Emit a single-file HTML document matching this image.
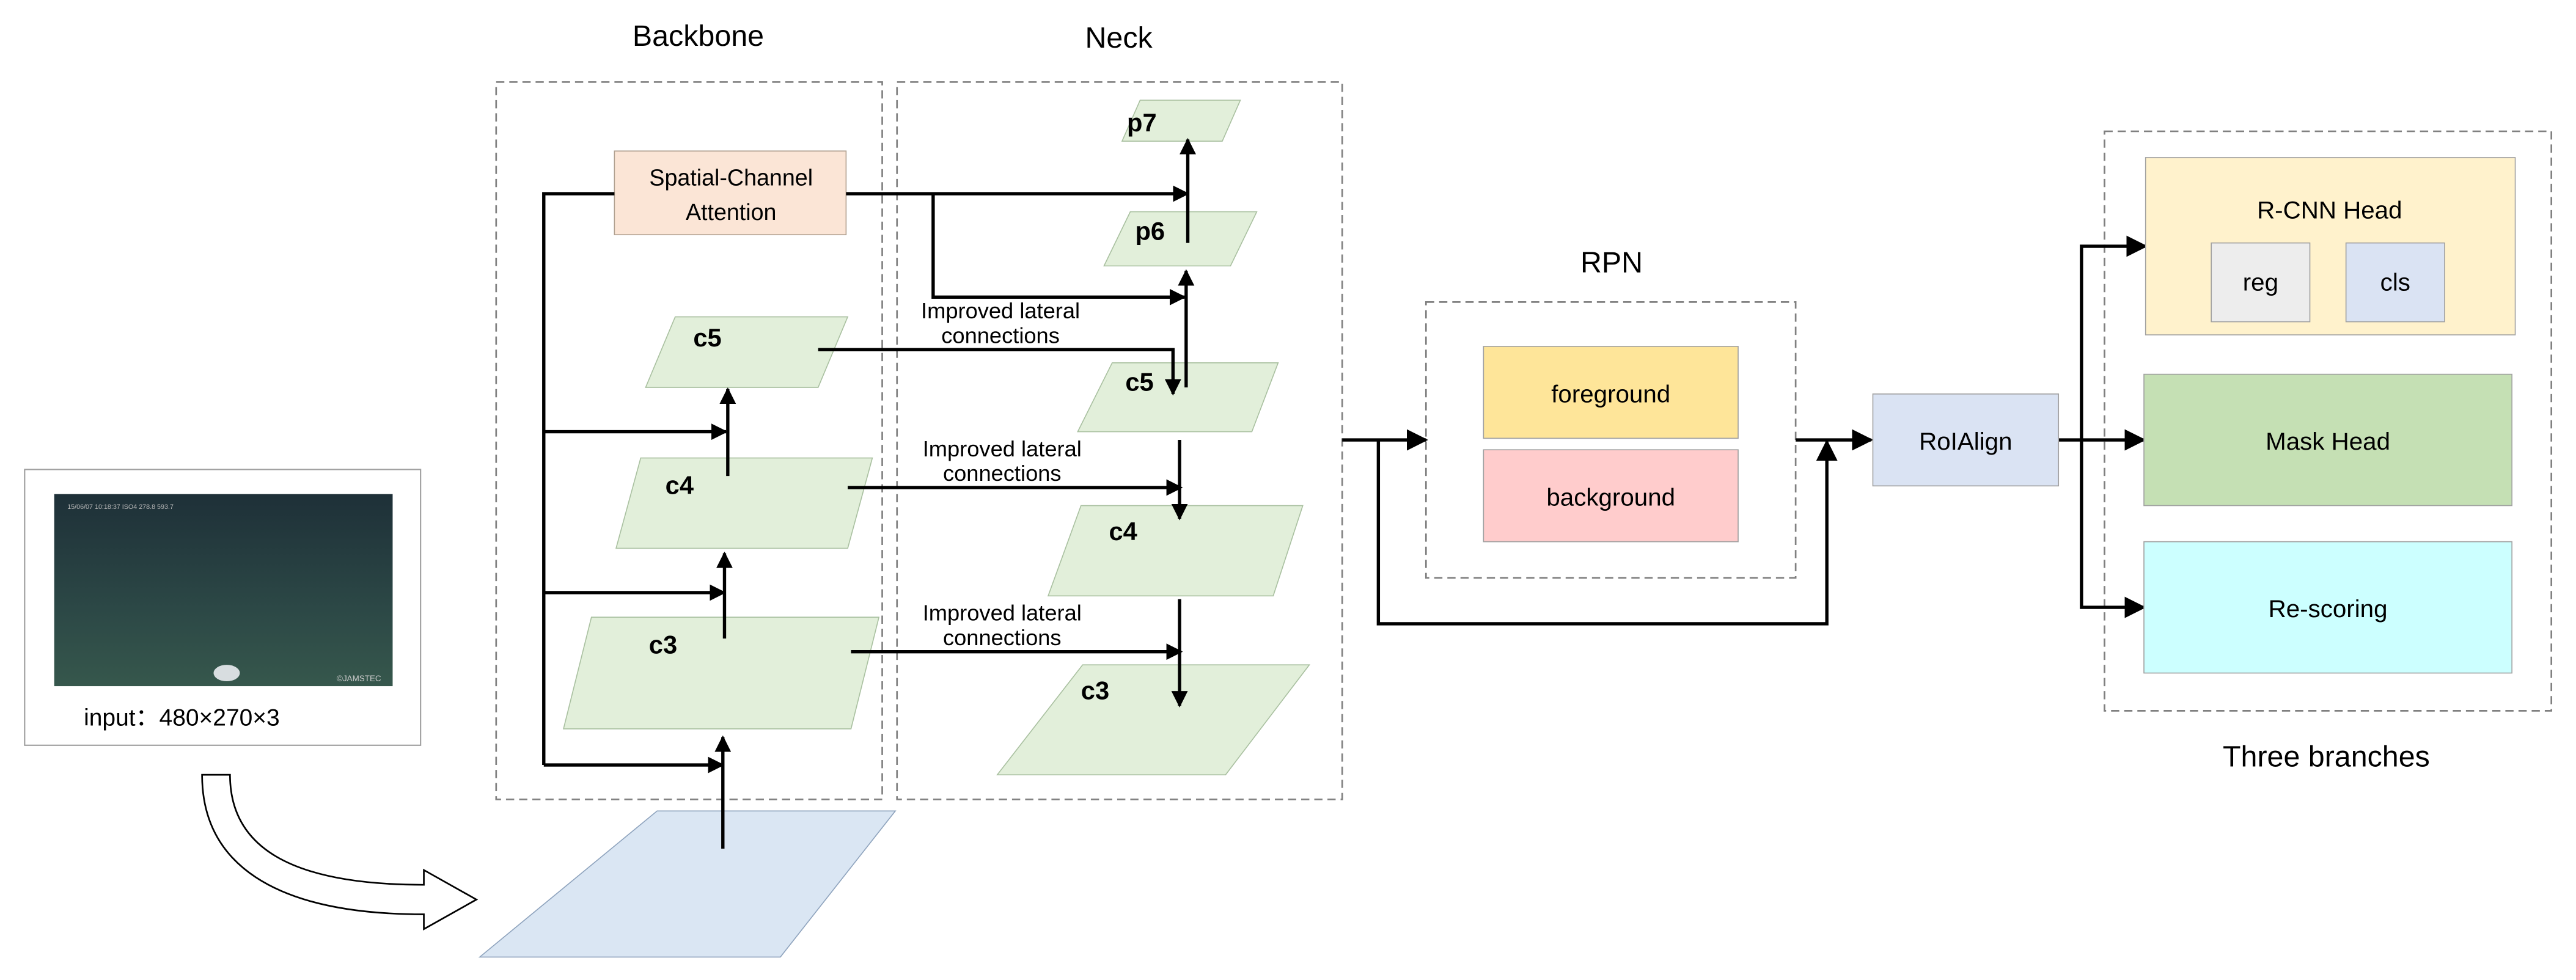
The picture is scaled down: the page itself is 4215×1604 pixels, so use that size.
<!DOCTYPE html>
<html><head><meta charset="utf-8"><style>
html,body{margin:0;padding:0;background:#fff;}
svg{display:block;}
text{font-family:"Liberation Sans",sans-serif;fill:#000;}
</style></head><body>
<svg width="4215" height="1604" viewBox="0 0 1568 597" preserveAspectRatio="none" xmlns="http://www.w3.org/2000/svg">
<defs>
<marker id="a" viewBox="0 0 10 10" refX="9" refY="5" markerWidth="5" markerHeight="5" orient="auto" markerUnits="strokeWidth"><path d="M0,0 L10,5 L0,10 Z" fill="#000"/></marker>
<marker id="b" viewBox="0 0 10 10" refX="9" refY="5" markerWidth="6.5" markerHeight="7" orient="auto" markerUnits="strokeWidth"><path d="M0,0 L10,5 L0,10 Z" fill="#000"/></marker>
<linearGradient id="g" x1="0" y1="0" x2="0" y2="1"><stop offset="0" stop-color="#1e3038"/><stop offset="0.6" stop-color="#2c4846"/><stop offset="1" stop-color="#36574c"/></linearGradient>
</defs>
<rect width="1568" height="597" fill="#fff"/>

<text x="425" y="28" font-size="18" text-anchor="middle">Backbone</text>
<text x="681" y="29" font-size="18" text-anchor="middle">Neck</text>
<text x="981" y="166" font-size="18" text-anchor="middle">RPN</text>
<text x="1416" y="467" font-size="18" text-anchor="middle">Three branches</text>

<g fill="none" stroke="#808080" stroke-width="1" stroke-dasharray="5,3">
<rect x="302" y="50" width="235" height="437"/>
<rect x="546" y="50" width="271" height="437"/>
<rect x="868" y="184" width="225" height="168"/>
<rect x="1281" y="80" width="272" height="353"/>
</g>

<rect x="15" y="286" width="241" height="168" fill="#fff" stroke="#a0a0a0" stroke-width="0.8"/>
<rect x="33" y="301" width="206" height="117" fill="url(#g)"/>
<ellipse cx="138" cy="410" rx="8" ry="5" fill="#d8dde0"/>
<text x="41" y="310" font-size="4" style="fill:#bbb">15/06/07  10:18:37        ISO4     278.8     593.7</text>
<text x="205" y="415" font-size="5" style="fill:#ccc">©JAMSTEC</text>
<text x="51" y="442" font-size="14.5">input：480×270×3</text>

<path d="M123,472 L140,472 C140,515 175,539 258,539 L258,530 L290,548 L258,566 L258,557 C165,557 123,525 123,472 Z" fill="#fff" stroke="#000" stroke-width="1"/>

<polygon points="400,494 545,494 475,583 292,583" fill="#dae6f3" stroke="#8ea3bd" stroke-width="0.6"/>

<g fill="#e2efda" stroke="#a9c0a0" stroke-width="0.6">
<polygon points="411,193 516,193 498,236 393,236"/>
<polygon points="390,279 531,279 516,334 375,334"/>
<polygon points="360,376 535,376 518,444 343,444"/>
<polygon points="694,61 755,61 744,86 683,86"/>
<polygon points="688,129 765,129 749,162 672,162"/>
<polygon points="677,221 778,221 762,263 656,263"/>
<polygon points="658,308 793,308 775,363 638,363"/>
<polygon points="659,405 797,405 746,472 607,472"/>
</g>
<g font-size="15.5" font-weight="bold">
<text x="422" y="211">c5</text>
<text x="405" y="301">c4</text>
<text x="395" y="398">c3</text>
<text x="686" y="80">p7</text>
<text x="691" y="146">p6</text>
<text x="685" y="238">c5</text>
<text x="675" y="329">c4</text>
<text x="658" y="426">c3</text>
</g>

<rect x="374" y="92" width="141" height="51" fill="#fbe5d6" stroke="#b0a090" stroke-width="0.6"/>
<text x="445" y="113" font-size="14" text-anchor="middle">Spatial-Channel</text>
<text x="445" y="134" font-size="14" text-anchor="middle">Attention</text>

<g font-size="13.5" text-anchor="middle">
<text x="609" y="194">Improved lateral</text><text x="609" y="209">connections</text>
<text x="610" y="278">Improved lateral</text><text x="610" y="293">connections</text>
<text x="610" y="378">Improved lateral</text><text x="610" y="393">connections</text>
</g>

<g fill="none" stroke="#000" stroke-width="2">
<polyline points="374,118 331,118 331,466"/>
<line x1="331" y1="263" x2="442" y2="263" marker-end="url(#a)"/>
<line x1="331" y1="361" x2="441" y2="361" marker-end="url(#a)"/>
<line x1="331" y1="466" x2="440" y2="466" marker-end="url(#a)"/>
<line x1="440" y1="517" x2="440" y2="449" marker-end="url(#a)"/>
<line x1="441" y1="389" x2="441" y2="337" marker-end="url(#a)"/>
<line x1="443" y1="290" x2="443" y2="237" marker-end="url(#a)"/>
<line x1="515" y1="118" x2="723" y2="118" marker-end="url(#a)"/>
<polyline points="568,118 568,181 721,181" marker-end="url(#a)"/>
<polyline points="498,213 714,213 714,240" marker-end="url(#a)"/>
<line x1="722" y1="236" x2="722" y2="165" marker-end="url(#a)"/>
<line x1="723" y1="148" x2="723" y2="85" marker-end="url(#a)"/>
<line x1="718" y1="268" x2="718" y2="316" marker-end="url(#a)"/>
<line x1="516" y1="297" x2="719" y2="297" marker-end="url(#a)"/>
<line x1="718" y1="365" x2="718" y2="430" marker-end="url(#a)"/>
<line x1="518" y1="397" x2="719" y2="397" marker-end="url(#a)"/>
<line x1="817" y1="268" x2="868" y2="268" marker-end="url(#b)"/>
<polyline points="839,268 839,380 1112,380 1112,269" marker-end="url(#b)"/>
<line x1="1093" y1="268" x2="1139" y2="268" marker-end="url(#b)"/>
<line x1="1253" y1="268" x2="1305" y2="268" marker-end="url(#b)"/>
<polyline points="1267,268 1267,150 1306,150" marker-end="url(#b)"/>
<polyline points="1267,268 1267,370 1305,370" marker-end="url(#b)"/>
</g>

<rect x="903" y="211" width="155" height="56" fill="#fee599" stroke="#a0a0a0" stroke-width="0.6"/>
<rect x="903" y="274" width="155" height="56" fill="#ffcccc" stroke="#a0a0a0" stroke-width="0.6"/>
<text x="980.5" y="245" font-size="15" text-anchor="middle">foreground</text>
<text x="980.5" y="308" font-size="15" text-anchor="middle">background</text>

<rect x="1140" y="240" width="113" height="56" fill="#dae3f3" stroke="#a0a0a0" stroke-width="0.6"/>
<text x="1196.5" y="274" font-size="15" text-anchor="middle">RoIAlign</text>

<rect x="1306" y="96" width="225" height="108" fill="#fff2cc" stroke="#a0a0a0" stroke-width="0.6"/>
<text x="1418" y="133" font-size="15" text-anchor="middle">R-CNN Head</text>
<rect x="1346" y="148" width="60" height="48" fill="#ededed" stroke="#a0a0a0" stroke-width="0.6"/>
<text x="1376" y="177" font-size="15" text-anchor="middle">reg</text>
<rect x="1428" y="148" width="60" height="48" fill="#dae3f3" stroke="#a0a0a0" stroke-width="0.6"/>
<text x="1458" y="177" font-size="15" text-anchor="middle">cls</text>
<rect x="1305" y="228" width="224" height="80" fill="#c5e0b4" stroke="#a0a0a0" stroke-width="0.6"/>
<text x="1417" y="274" font-size="15" text-anchor="middle">Mask Head</text>
<rect x="1305" y="330" width="224" height="80" fill="#ccffff" stroke="#a0a0a0" stroke-width="0.6"/>
<text x="1417" y="376" font-size="15" text-anchor="middle">Re-scoring</text>
</svg>
</body></html>
